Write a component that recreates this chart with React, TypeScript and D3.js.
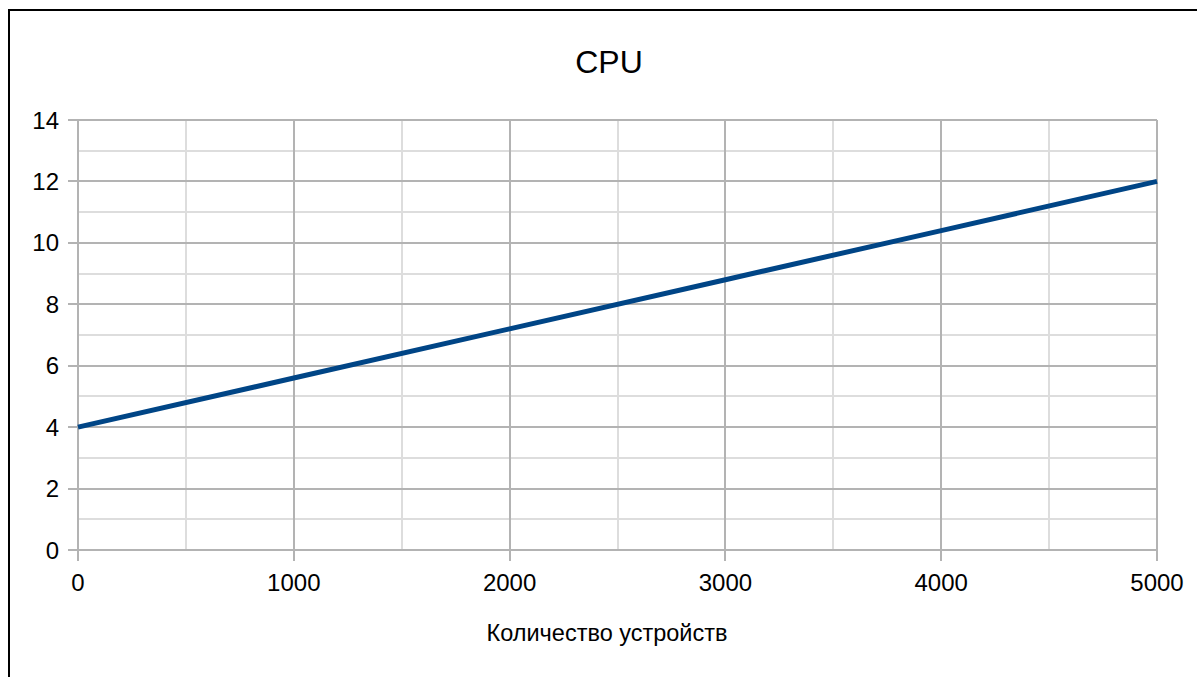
import React, { useEffect, useRef } from 'react';
import * as d3 from 'd3';

const devices = [0, 1000, 2000, 3000, 4000, 5000];
const cpu = [4, 5.6, 7.2, 8.8, 10.4, 12];
const xTicks = [0, 1000, 2000, 3000, 4000, 5000];
const yTicks = [0, 2, 4, 6, 8, 10, 12, 14];

const App = () => {
  const ref = useRef<SVGSVGElement>(null);

  useEffect(() => {
    const width = 1197;
    const height = 677;
    const margin = { top: 120, right: 40, bottom: 127, left: 78 };
    const font = '"Liberation Sans", Arial, sans-serif';

    const svg = d3.select(ref.current);
    svg.selectAll('*').remove();

    svg.append('rect').attr('width', width).attr('height', height).attr('fill', '#fff');
    // frame
    svg.append('rect')
      .attr('x', 9).attr('y', 10)
      .attr('width', width + 20).attr('height', height + 20)
      .attr('fill', 'none').attr('stroke', '#000').attr('stroke-width', 2);

    const x = d3.scaleLinear().domain([0, 5000]).range([margin.left, width - margin.right]);
    const y = d3.scaleLinear().domain([0, 14]).range([height - margin.bottom, margin.top]);

    const g = svg.append('g').attr('shape-rendering', 'crispEdges');

    // minor grid
    d3.range(500, 5000, 1000).forEach(v => {
      g.append('line').attr('x1', x(v)).attr('x2', x(v)).attr('y1', y(14)).attr('y2', y(0))
        .attr('stroke', '#dddddd').attr('stroke-width', 2);
    });
    d3.range(1, 14, 2).forEach(v => {
      g.append('line').attr('x1', x(0)).attr('x2', x(5000)).attr('y1', y(v)).attr('y2', y(v))
        .attr('stroke', '#dddddd').attr('stroke-width', 2);
    });
    // major grid
    xTicks.forEach(v => {
      g.append('line').attr('x1', x(v)).attr('x2', x(v)).attr('y1', y(14)).attr('y2', y(0) + 11)
        .attr('stroke', '#b3b3b3').attr('stroke-width', 2);
    });
    yTicks.forEach(v => {
      g.append('line').attr('x1', x(0) - 10).attr('x2', x(5000)).attr('y1', y(v)).attr('y2', y(v))
        .attr('stroke', '#b3b3b3').attr('stroke-width', 2);
    });

    // tick labels
    svg.append('g').selectAll('text').data(xTicks).enter().append('text')
      .attr('x', d => x(d)).attr('y', y(0) + 41)
      .attr('text-anchor', 'middle').attr('font-family', font).attr('font-size', 24)
      .attr('fill', '#000').text(d => d);
    svg.append('g').selectAll('text').data(yTicks).enter().append('text')
      .attr('x', x(0) - 19).attr('y', d => y(d) + 8.5)
      .attr('text-anchor', 'end').attr('font-family', font).attr('font-size', 24)
      .attr('fill', '#000').text(d => d);

    // line
    const line = d3.line<number>().x((d, i) => x(devices[i])).y(d => y(d));
    svg.append('path').datum(cpu).attr('d', line)
      .attr('fill', 'none').attr('stroke', '#004586').attr('stroke-width', 5)
      .attr('stroke-linecap', 'butt');

    // title & axis label
    svg.append('text').attr('x', 609).attr('y', 73).attr('text-anchor', 'middle')
      .attr('font-family', font).attr('font-size', 32).attr('fill', '#000').text('CPU');
    svg.append('text').attr('x', 607).attr('y', 641).attr('text-anchor', 'middle')
      .attr('font-family', font).attr('font-size', 23.5).attr('fill', '#000').text('Количество устройств');
  }, []);

  return (
    <svg ref={ref} width={1197} height={677}
      style={{ position: 'absolute', left: 0, top: 0, display: 'block' }} />
  );
};

export default App;
